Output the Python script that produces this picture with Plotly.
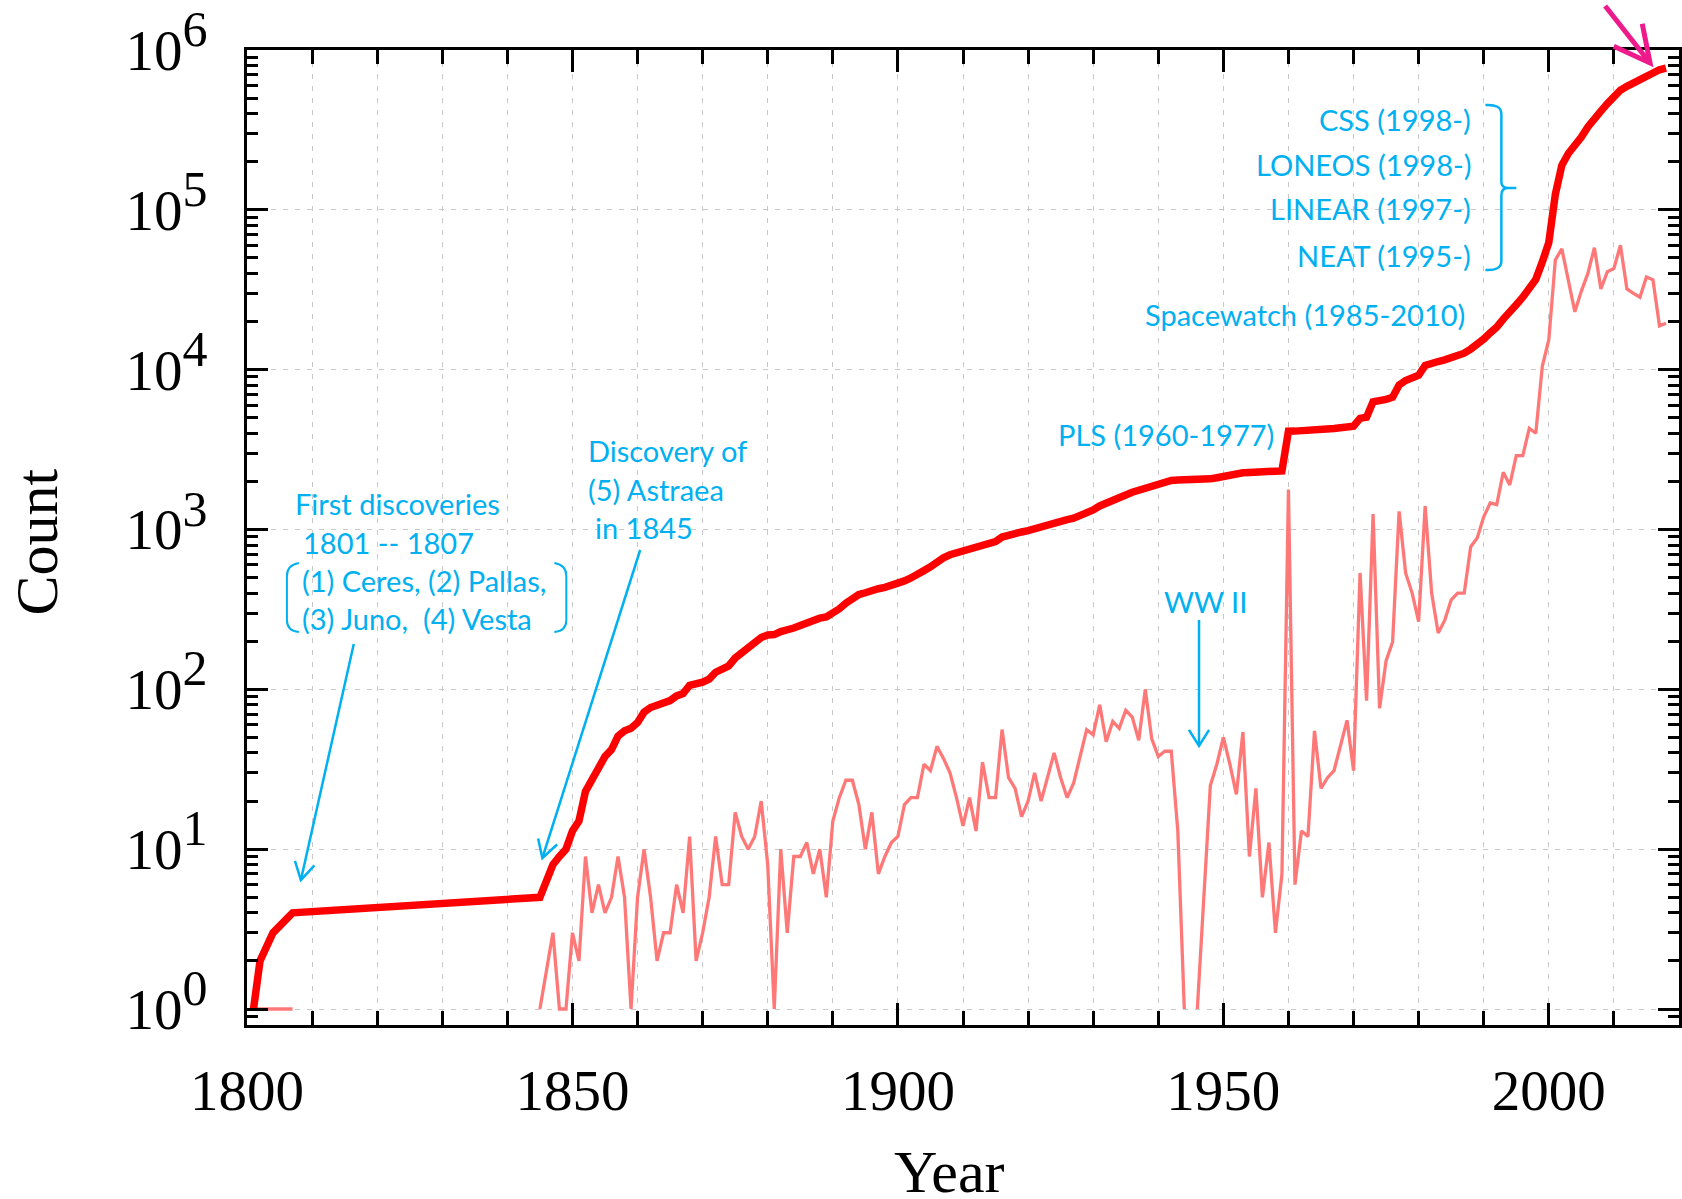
import math
import plotly.graph_objects as go

# ---------------- data ----------------
cum_years = [1801, 1802, 1804, 1807, 1845, 1847, 1848, 1849, 1850, 1851, 1852, 1853, 1854, 1855,
             1856, 1857, 1858, 1859, 1860, 1861, 1862, 1863, 1864, 1865, 1866, 1867, 1868, 1869,
             1870, 1871, 1872, 1873, 1874, 1875, 1876, 1877, 1878, 1879, 1880, 1881, 1882, 1883,
             1884, 1885, 1886, 1887, 1888, 1889, 1890, 1891, 1892, 1893, 1894, 1895, 1896, 1897,
             1898, 1899, 1900, 1901, 1902, 1903, 1904, 1905, 1906, 1907, 1908, 1909, 1910, 1911,
             1912, 1913, 1914, 1915, 1916, 1917, 1918, 1919, 1920, 1921, 1922, 1923, 1924, 1925,
             1926, 1927, 1928, 1929, 1930, 1931, 1932, 1933, 1934, 1935, 1936, 1937, 1938, 1939,
             1940, 1941, 1942, 1943, 1944, 1946, 1947, 1948, 1949, 1950, 1951, 1952, 1953, 1954,
             1955, 1956, 1957, 1958, 1959, 1960, 1961, 1962, 1963, 1964, 1965, 1966, 1967, 1968,
             1969, 1970, 1971, 1972, 1973, 1974, 1975, 1976, 1977, 1978, 1979, 1980, 1981, 1982,
             1983, 1984, 1985, 1986, 1987, 1988, 1989, 1990, 1991, 1992, 1993, 1994, 1995, 1996,
             1997, 1998, 1999, 2000, 2001, 2002, 2003, 2004, 2005, 2006, 2007, 2008, 2009, 2010,
             2011, 2012, 2013, 2014, 2015, 2016, 2017, 2018]
cum_counts = [1, 2, 3, 4, 5, 8, 9, 10, 13, 15, 23, 27, 33, 38,
              42, 51, 55, 57, 62, 72, 77, 79, 83, 85, 91, 94, 106, 108,
              111, 116, 128, 134, 140, 157, 169, 179, 191, 211, 219, 220, 230, 233,
              242, 251, 262, 269, 279, 284, 299, 319, 346, 373, 392, 402, 419, 426,
              435, 446, 458, 477, 498, 519, 553, 584, 628, 665, 695, 716, 730, 751,
              764, 799, 820, 841, 897, 925, 949, 965, 985, 1015, 1035, 1063, 1103, 1131,
              1152, 1178, 1216, 1272, 1324, 1404, 1451, 1514, 1571, 1645, 1712, 1760, 1860, 1909,
              1947, 1988, 2029, 2042, 2043, 2044, 2049, 2074, 2108, 2157, 2191, 2213, 2266, 2275,
              2298, 2303, 2314, 2317, 2324, 4120, 4126, 4139, 4152, 4204, 4228, 4256, 4287, 4332,
              4396, 4427, 4962, 5047, 6297, 6373, 6524, 6722, 8022, 8557, 8957, 9222, 10622, 11022,
              11247, 11517, 11880, 12280, 12680, 13460, 14345, 15545, 17010, 18440, 20720, 22620, 25520, 28420,
              32720, 36720, 47220, 62620, 125000, 190000, 225000, 250000, 285000, 330000, 378000, 415000, 462000, 510000,
              560000, 592000, 622000, 650000, 690000, 728000, 752000, 771000]

# yearly discoveries (None = no discovery -> break in the line)
ann_years = [1801, 1802, 1804, 1807, 1808, 1845, 1847, 1848, 1849, 1850, 1851, 1852, 1853, 1854,
             1855, 1856, 1857, 1858, 1859, 1860, 1861, 1862, 1863, 1864, 1865, 1866, 1867, 1868,
             1869, 1870, 1871, 1872, 1873, 1874, 1875, 1876, 1877, 1878, 1879, 1880, 1881, 1882,
             1883, 1884, 1885, 1886, 1887, 1888, 1889, 1890, 1891, 1892, 1893, 1894, 1895, 1896,
             1897, 1898, 1899, 1900, 1901, 1902, 1903, 1904, 1905, 1906, 1907, 1908, 1909, 1910,
             1911, 1912, 1913, 1914, 1915, 1916, 1917, 1918, 1919, 1920, 1921, 1922, 1923, 1924,
             1925, 1926, 1927, 1928, 1929, 1930, 1931, 1932, 1933, 1934, 1935, 1936, 1937, 1938,
             1939, 1940, 1941, 1942, 1943, 1944, 1945, 1946, 1947, 1948, 1949, 1950, 1951, 1952,
             1953, 1954, 1955, 1956, 1957, 1958, 1959, 1960, 1961, 1962, 1963, 1964, 1965, 1966,
             1967, 1968, 1969, 1970, 1971, 1972, 1973, 1974, 1975, 1976, 1977, 1978, 1979, 1980,
             1981, 1982, 1983, 1984, 1985, 1986, 1987, 1988, 1989, 1990, 1991, 1992, 1993, 1994,
             1995, 1996, 1997, 1998, 1999, 2000, 2001, 2002, 2003, 2004, 2005, 2006, 2007, 2008,
             2009, 2010, 2011, 2012, 2013, 2014, 2015, 2016, 2017, 2018]
ann_counts = [1, 1, 1, 1, None, 1, 3, 1, 1, 3, 2, 9, 4, 6,
              4, 5, 9, 5, 1, 5, 10, 5, 2, 3, 3, 6, 4, 12,
              2, 3, 5, 12, 6, 6, 17, 12, 10, 12, 20, 8, 1, 10,
              3, 9, 9, 11, 7, 10, 5, 15, 21, 27, 27, 19, 10, 17,
              7, 9, 11, 12, 19, 21, 21, 34, 31, 44, 37, 30, 21, 14,
              21, 13, 35, 21, 21, 56, 28, 24, 16, 20, 30, 20, 28, 40,
              28, 21, 26, 38, 56, 52, 80, 47, 63, 57, 74, 67, 48, 100,
              49, 38, 41, 41, 13, 1, None, 1, 5, 25, 34, 50, 34, 22,
              54, 9, 24, 5, 11, 3, 7, 1780, 6, 13, 12, 55, 24, 28,
              31, 44, 64, 31, 535, 85, 1250, 76, 151, 198, 1300, 535, 400, 265,
              1400, 400, 225, 270, 363, 400, 400, 780, 885, 1200, 1465, 1430, 2280, 1900,
              2900, 2900, 4300, 4000, 10500, 15400, 48600, 57000, 37000, 23000, 31000, 40000, 58000, 32000,
              41000, 43000, 60000, 32000, 30000, 28400, 38000, 36500, 18800, 19500]

x_tick_vals = [1800, 1850, 1900, 1950, 2000]
y_tick_exps = [0, 1, 2, 3, 4, 5, 6]

# ---------------- geometry helpers ----------------
W, H = 1682, 1199
L, R, T, B = 247, 1682, 50, 1025


def px(x):
    return (x - L) / (R - L)


def py(y):
    return (B - y) / (B - T)


CYAN = "#00B0F0"
PINK = "#EE1A8C"
SERIF = "Liberation Serif"
SANS = "Lato"

fig = go.Figure()
fig.add_trace(go.Scatter(x=ann_years, y=ann_counts, mode="lines",
                         line=dict(color="#FF7878", width=3.3), connectgaps=False,
                         showlegend=False))
fig.add_trace(go.Scatter(x=cum_years, y=cum_counts, mode="lines",
                         line=dict(color="#FF0000", width=7.5), showlegend=False))

grid = dict(gridcolor="#C9C9C9", gridwidth=1.4, griddash="5px,7px")

fig.update_xaxes(
    range=[1800, 2020], tickmode="array", tickvals=x_tick_vals,
    ticktext=[str(v) for v in x_tick_vals],
    ticks="inside", ticklen=22, tickwidth=3, tickcolor="black",
    showline=True, linecolor="black", linewidth=3, mirror="allticks",
    showgrid=True, **grid, zeroline=False,
    tickfont=dict(family=SERIF, size=57, color="black"),
    ticklabelstandoff=14,
    minor=dict(tickmode="linear", tick0=1800, dtick=10, ticks="inside", ticklen=14,
               tickwidth=3, tickcolor="black", showgrid=True, **grid),
)

minor_y = [0.9] + [m * 10 ** k for k in range(0, 6) for m in range(2, 10)]
fig.update_yaxes(
    type="log", range=[-0.1, 6], tickmode="array",
    tickvals=[10 ** e for e in y_tick_exps],
    ticktext=["10<sup><span style='font-size:50px'>%d</span></sup>" % e for e in y_tick_exps],
    ticks="inside", ticklen=21, tickwidth=3, tickcolor="black",
    showline=True, linecolor="black", linewidth=3, mirror="allticks",
    showgrid=True, **grid, zeroline=False,
    tickfont=dict(family=SERIF, size=57, color="black"),
    ticklabelstandoff=25,
    minor=dict(tickmode="array", tickvals=minor_y, ticks="inside", ticklen=11,
               tickwidth=2.5, tickcolor="black", showgrid=False),
)

annotations = []


def text(t, x, y, xanchor="left", size=29, color=CYAN, family=SANS, angle=0):
    annotations.append(dict(text=t, x=px(x), y=py(y), xref="paper", yref="paper",
                            xanchor=xanchor, yanchor="middle", showarrow=False,
                            textangle=angle,
                            font=dict(family=family, size=size, color=color)))


# axis titles
text("Count", 37, 542, xanchor="center", size=60, color="black", family=SERIF, angle=-90)
text("Year", 951, 1172, xanchor="center", size=60, color="black", family=SERIF)

# cyan annotations
text("First discoveries", 293, 503)
text("1801 -- 1807", 301, 542)
text("(1) Ceres, (2) Pallas,", 300, 580)
text("(3) Juno,\u00a0 (4) Vesta", 300, 618)
text("Discovery of", 587, 450)
text("(5) Astraea", 587, 490)
text("in 1845", 594, 527)
text("WW II", 1208, 601, xanchor="center")
text("PLS (1960-1977)", 1278, 434, xanchor="right")
text("Spacewatch (1985-2010)", 1470, 314, xanchor="right")
text("CSS (1998-)", 1476, 119, xanchor="right")
text("LONEOS (1998-)", 1476, 164, xanchor="right")
text("LINEAR (1997-)", 1476, 208, xanchor="right")
text("NEAT (1995-)", 1476, 255, xanchor="right")

shapes = []


def path_px(pts_cmds, color, width):
    parts = []
    for cmd, coords in pts_cmds:
        s = " ".join("%f,%f" % (px(cx), py(cy)) for cx, cy in coords)
        parts.append("%s %s" % (cmd, s))
    shapes.append(dict(type="path", path=" ".join(parts), xref="paper", yref="paper",
                       line=dict(color=color, width=width), fillcolor="rgba(0,0,0,0)",
                       layer="above"))


def arrow(x0, y0, x1, y1, color, width, head_len, head_deg):
    ang = math.atan2(y0 - y1, x0 - x1)
    arms = []
    for s in (-1, 1):
        a = ang + s * math.radians(head_deg)
        arms.append((x1 + head_len * math.cos(a), y1 + head_len * math.sin(a)))
    path_px([("M", [(x0, y0)]), ("L", [(x1, y1)])], color, width)
    path_px([("M", [arms[0]]), ("L", [(x1, y1)]), ("L", [arms[1]])], color, width)


arrow(354, 644, 301, 880, CYAN, 2.5, 20, 30)
arrow(641, 550, 543, 858, CYAN, 2.5, 20, 30)
arrow(1201, 620, 1201, 746, CYAN, 2.5, 19, 32)
arrow(1608, 6, 1653, 63, PINK, 5, 40, 27)

# round brackets around the first-discovery names
path_px([("M", [(299, 563)]), ("Q", [(287, 565), (287, 576)]), ("L", [(287, 620)]),
         ("Q", [(287, 631), (299, 632)])], CYAN, 2)
path_px([("M", [(555, 563)]), ("Q", [(567, 565), (567, 576)]), ("L", [(567, 620)]),
         ("Q", [(567, 631), (555, 632)])], CYAN, 2)
# brace for the surveys
path_px([("M", [(1488, 105)]), ("Q", [(1504, 104), (1504, 114)]), ("L", [(1504, 182)]),
         ("Q", [(1504, 188), (1511, 188)]), ("L", [(1519, 188)]),
         ("M", [(1511, 188)]), ("Q", [(1504, 188), (1504, 195)]), ("L", [(1504, 261)]),
         ("Q", [(1504, 271), (1488, 270)])], CYAN, 2.5)

fig.update_layout(
    width=W, height=H, autosize=False,
    margin=dict(l=L, r=W - R, t=T, b=H - B, pad=0),
    plot_bgcolor="white", paper_bgcolor="white",
    annotations=annotations, shapes=shapes,
)

fig.write_html("out.html")
